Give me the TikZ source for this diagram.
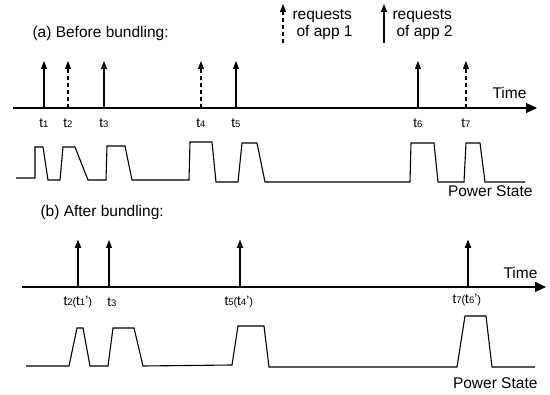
\documentclass[tikz,border=0pt]{standalone}
\usepackage{fontspec}
\setmainfont{Liberation Sans}
\usetikzlibrary{arrows.meta}
\newcommand{\tsub}[1]{{\fontsize{9.5}{10}\selectfont #1}}
\newcommand{\tlab}[1]{t\tsub{#1}}
\newcommand{\tpair}[2]{t\tsub{#1}{\fontsize{11}{11}\selectfont(}t\tsub{#2}'{\fontsize{11}{11}\selectfont)}}

\begin{document}
\begin{tikzpicture}[x=1pt,y=-1pt,line width=1.1pt,
  req/.style={-{Triangle[width=6pt,length=8pt]}},
  app1/.style={req,dash pattern=on 4pt off 3pt},
  axis/.style={-{Triangle[width=10pt,length=11pt]}},
  lbl/.style={font=\fontsize{15.5}{16}\selectfont,inner sep=0pt},
  tick/.style={font=\fontsize{13.5}{14}\selectfont,inner sep=0pt}]
  \useasboundingbox (0,0) rectangle (550,395);

  % legend
  \coordinate (k1a) at (283,43);
  \coordinate (k1b) at (283,4);
  \draw[app1] (k1a) -- (k1b);
  \node[lbl,anchor=base west] (k1t) at (292,20) {requests};
  \node[lbl,anchor=base west] (k1u) at (296,37) {of app 1};
  \coordinate (k2a) at (384,43);
  \coordinate (k2b) at (384,4);
  \draw[req] (k2a) -- (k2b);
  \node[lbl,anchor=base west] (k2t) at (392,20) {requests};
  \node[lbl,anchor=base west] (k2u) at (396,37) {of app 2};

  % (a) before bundling
  \node[lbl,anchor=base west] (capA) at (32,38) {(a) Before bundling:};
  \coordinate (a0) at (13,108);
  \coordinate (a1) at (537,108);
  \draw[axis] (a0) -- (a1);
  \node[lbl,anchor=base east] (timeA) at (527,99) {Time};
  \foreach \x/\s/\l in {44/req/1, 68/app1/2, 104/req/3, 201/app1/4, 236/req/5, 418/req/6, 466/app1/7} {
    \coordinate (ra\l) at (\x,108);
    \coordinate (ta\l) at (\x,61);
    \draw[\s] (ra\l) -- (ta\l);
    \node[tick] (la\l) at (\x,123) {\tlab{\l}};
  }
  \draw (16,178) -- (35,178) -- (35,147) -- (43,147) -- (48,180) -- (60,180)
    -- (63,147) -- (75,147) -- (88,180) -- (106,180) -- (107,146) -- (125,146)
    -- (132,180) -- (189,180) -- (190,142) -- (212,142) -- (216,182) -- (238,182)
    -- (242,143) -- (257,143) -- (265,182) -- (410,182) -- (411,143) -- (434,143)
    -- (438,182) -- (464,182) -- (466,143) -- (480,143) -- (485,182) -- (525,182);
  \node[lbl,anchor=base east] (psA) at (533,197) {Power State};

  % (b) after bundling
  \node[lbl,anchor=base west] (capB) at (40,217) {(b) After bundling:};
  \coordinate (b0) at (22,287);
  \coordinate (b1) at (546,287);
  \draw[axis] (b0) -- (b1);
  \node[lbl,anchor=base east] (timeB) at (538,279) {Time};
  \foreach \x/\l in {78/2, 109/3, 240/5, 468/7} {
    \coordinate (rb\l) at (\x,287);
    \coordinate (tb\l) at (\x,240);
  }
  \foreach \l in {2,5,7} {
    \draw[req] (rb\l) -- (tb\l);
    \draw[app1,line width=1.6pt] (rb\l) -- (tb\l);
  }
  \draw[req] (rb3) -- (tb3);
  \node[tick,anchor=west] (lb2) at (63,302) {\tpair{2}{1}};
  \node[tick] (lb3) at (112,302) {\tlab{3}};
  \node[tick,anchor=west] (lb5) at (224,302) {\tpair{5}{4}};
  \node[tick,anchor=west] (lb7) at (452,300) {\tpair{7}{6}};
  \draw (26,366) -- (69,366) -- (77,328) -- (83,328) -- (90,366) -- (108,366)
    -- (113,328) -- (134,328) -- (143,366) -- (232,365) -- (238,326) -- (264,326)
    -- (269,367) -- (457,367) -- (465,316) -- (486,316) -- (492,367) -- (535,367);
  \node[lbl,anchor=base east] (psB) at (538,389) {Power State};
\end{tikzpicture}
\end{document}
